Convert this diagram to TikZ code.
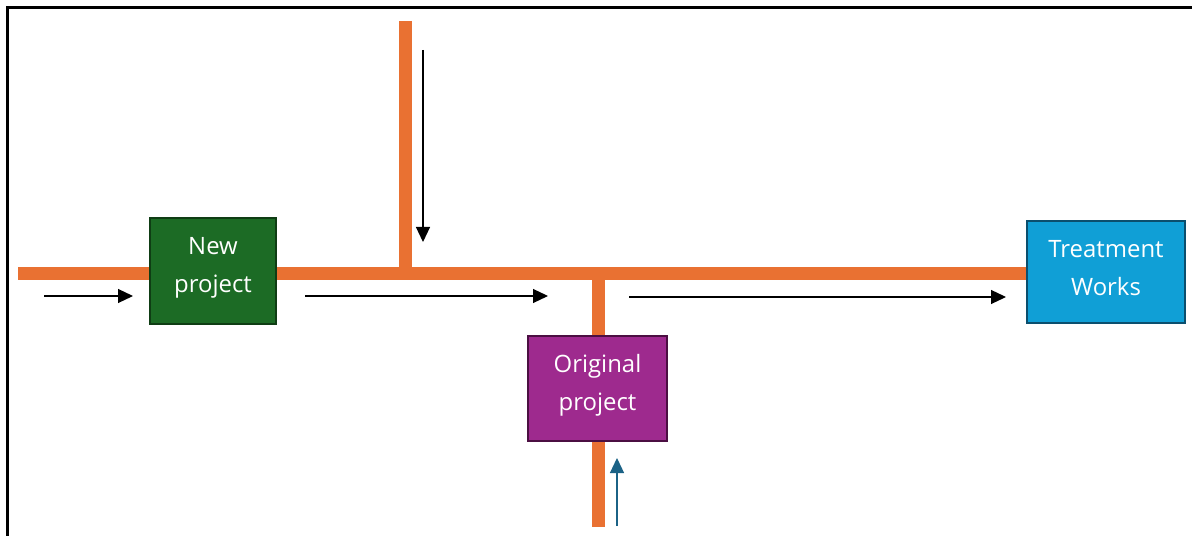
\documentclass[tikz,border=0pt]{standalone}
\usepackage{fontspec}
\setmainfont{Open Sans}
\usetikzlibrary{arrows.meta,backgrounds}
\definecolor{pipeorange}{HTML}{E97132}
\definecolor{newfill}{HTML}{1C6B25}
\definecolor{newedge}{HTML}{0F3D14}
\definecolor{origfill}{HTML}{9E2A8E}
\definecolor{origedge}{HTML}{4B0F42}
\definecolor{worksfill}{HTML}{109FD6}
\definecolor{worksedge}{HTML}{0B4F6E}
\definecolor{upflow}{HTML}{1B6286}
\begin{document}
\begin{tikzpicture}[x=1bp,y=-1bp,
  pipe/.style={draw=pipeorange, line width=13bp},
  unit/.style={draw, line width=2bp, inner sep=0pt},
  unitlabel/.style={text=white, align=center, inner sep=0pt,
    font=\fontsize{24}{38}\selectfont},
  flow/.style={-{Triangle[length=15bp,width=14bp]}, line width=1.2bp}]
\useasboundingbox (0,0) rectangle (1192,536);
% frame
\draw[line width=2.5bp] (7.5,536) -- (7.5,7.5) -- (1192,7.5);

% treatment units
\node[unit, fill=newfill, draw=newedge, minimum width=126bp, minimum height=106bp] (new) at (213,271) {};
\node[unit, fill=worksfill, draw=worksedge, minimum width=158bp, minimum height=102bp] (works) at (1106,272) {};
\node[unit, fill=origfill, draw=origedge, minimum width=139bp, minimum height=105bp] (orig) at (597.5,388.5) {};
\node[unitlabel] (newtxt) at ([yshift=3.5bp]new.center) {New\\project};
\node[unitlabel] (workstxt) at ([yshift=3.5bp]works.center) {Treatment\\Works};
\node[unitlabel] (origtxt) at ([yshift=3.5bp]orig.center) {Original\\project};

% pipe junctions and ends
\coordinate (west) at (18,274);
\coordinate (jtop) at (405,274);
\coordinate (topend) at (405,21);
\coordinate (jorig) at (598,274);
\coordinate (botend) at (598,527);

% pipes, laid under the units
\begin{scope}[on background layer]
\draw[pipe] (west) -- (west -| works.center);
\draw[pipe] (topend) -- (jtop);
\draw[pipe] (jorig) -- (botend);
\end{scope}

% flow arrows
\coordinate (f1a) at (44,296);
\coordinate (f1b) at (133,296);
\coordinate (f2a) at (305,296);
\coordinate (f2b) at (548,296);
\coordinate (f3a) at (629,297);
\coordinate (f3b) at (1006,297);
\coordinate (f4a) at (423,50);
\coordinate (f4b) at (423,242);
\coordinate (f5a) at (617,526);
\coordinate (f5b) at (617,458);
\draw[flow] (f1a) -- (f1b);
\draw[flow] (f2a) -- (f2b);
\draw[flow] (f3a) -- (f3b);
\draw[flow] (f4a) -- (f4b);
\draw[flow, draw=upflow, fill=upflow] (f5a) -- (f5b);
\end{tikzpicture}
\end{document}
